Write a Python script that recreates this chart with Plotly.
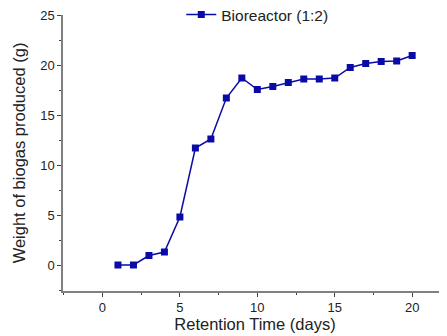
import plotly.graph_objects as go

days = list(range(1, 21))
biogas = [0, 0, 0.95, 1.3, 4.8, 11.7, 12.6, 16.7, 18.7, 17.55, 17.85, 18.25, 18.6, 18.6, 18.7, 19.75, 20.15, 20.35, 20.4, 20.95]
series_name = "Bioreactor (1:2)"
x_ticks = [0, 5, 10, 15, 20]
y_ticks = [0, 5, 10, 15, 20, 25]

FONT = "Liberation Sans, Arial"

fig = go.Figure()
fig.add_trace(go.Scatter(
    x=days, y=biogas, mode="lines+markers", name=series_name,
    line=dict(color="#0A0AA6", width=1.5),
    marker=dict(symbol="square", size=7, color="#0A0AA6"),
))

axis_common = dict(
    showline=True, linecolor="#808080", linewidth=1.5,
    ticks="outside", ticklen=4, tickwidth=1, tickcolor="#404040",
    showgrid=False, zeroline=False, automargin=False,
    ticklabeloverflow="allow",
    tickfont=dict(family=FONT, size=13, color="#222"),
    minor=dict(ticks="outside", ticklen=2, tickwidth=1, tickcolor="#404040"),
)

# page body has an 8px default margin, so the figure is offset by 8px
fig.update_layout(
    width=439, height=328,
    margin=dict(l=55, r=0, t=7, b=45, autoexpand=False),
    plot_bgcolor="white", paper_bgcolor="white",
    showlegend=True,
    legend=dict(x=0.308, y=1.0, xanchor="left", yanchor="middle",
                bgcolor="rgba(0,0,0,0)",
                font=dict(family=FONT, size=15.5, color="#222")),
    xaxis=dict(range=[-2.55, 22.25], tickvals=x_ticks,
               title=dict(text="Retention Time (days)", standoff=4,
                          font=dict(family=FONT, size=16.5, color="#222")),
               **axis_common),
    yaxis=dict(range=[-2.6, 25], tickvals=y_ticks,
               title=dict(text="Weight of biogas produced (g)", standoff=10,
                          font=dict(family=FONT, size=16.5, color="#222")),
               **axis_common),
)
fig.update_xaxes(minor=dict(dtick=2.5, tick0=0))
fig.update_yaxes(minor=dict(dtick=2.5, tick0=0))

fig.write_html("out.html")
